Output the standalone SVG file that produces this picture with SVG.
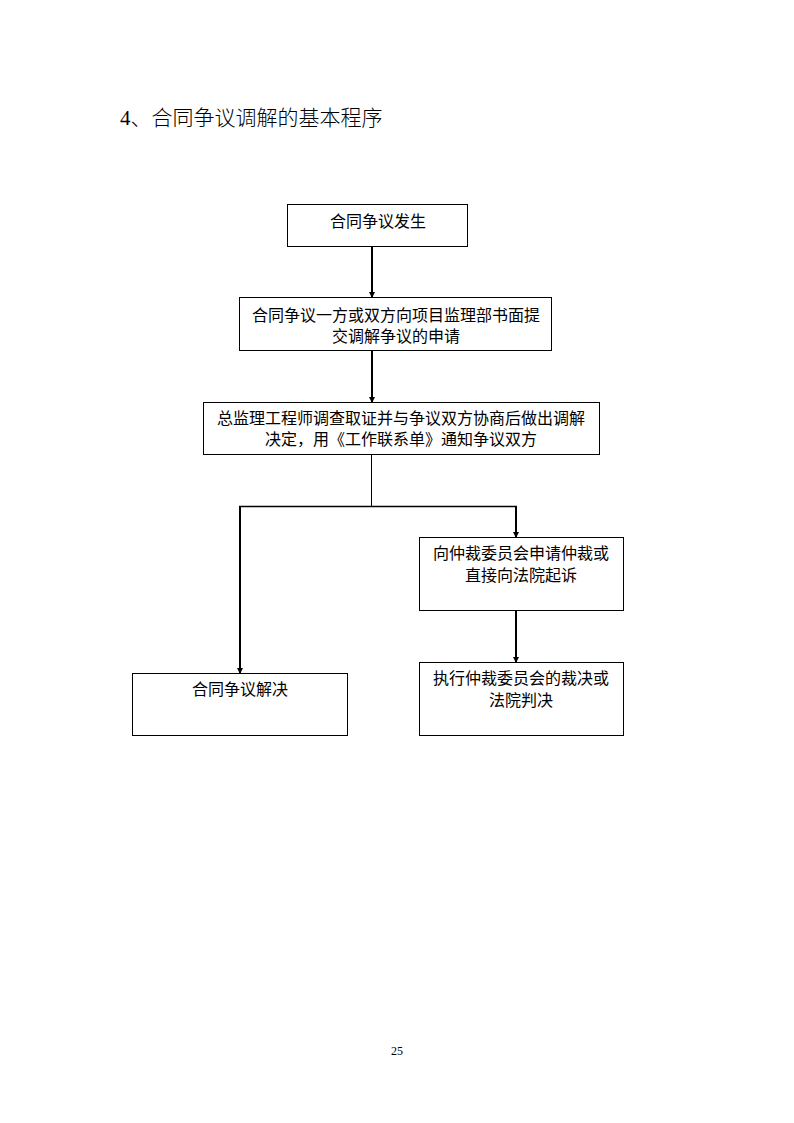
<svg xmlns="http://www.w3.org/2000/svg" width="794" height="1123" viewBox="0 0 794 1123">
<style>
.box{fill:#fff;stroke:#000;stroke-width:1}
.t{font-family:"Liberation Sans","Noto Sans CJK SC",sans-serif;font-size:16px;fill:#000;text-anchor:middle}
.arr{stroke:#000;stroke-width:2;fill:none}
.thin{stroke:#000;stroke-width:1;fill:none}
</style>
<defs>
<marker id="ah" markerWidth="6" markerHeight="6" refX="5" refY="3" orient="auto" markerUnits="userSpaceOnUse">
<path d="M0,0 L6,3 L0,6 z" fill="#000"/>
</marker>
</defs>
<text x="120" y="125" style="font-family:'Liberation Serif','Noto Sans CJK SC',serif;font-size:21px;font-weight:300">4、合同争议调解的基本程序</text>
<g id="connectors">
<line class="arr" x1="372" y1="246" x2="372" y2="297" marker-end="url(#ah)"/>
<line class="arr" x1="372" y1="350" x2="372" y2="402" marker-end="url(#ah)"/>
<line class="thin" x1="371.5" y1="454" x2="371.5" y2="506"/>
<line class="thin" x1="239" y1="506.5" x2="517" y2="506.5" style="stroke-width:1.5"/>
<line class="arr" x1="240" y1="506" x2="240" y2="673" marker-end="url(#ah)"/>
<line class="arr" x1="516" y1="506" x2="516" y2="537" marker-end="url(#ah)"/>
<line class="arr" x1="516" y1="610" x2="516" y2="662" marker-end="url(#ah)"/>
</g>
<g id="n1"><rect class="box" x="287.5" y="204.5" width="180" height="42"/><text class="t" x="378" y="227">合同争议发生</text></g>
<g id="n2"><rect class="box" x="239.5" y="297.5" width="312" height="53"/><text class="t" x="396" y="321">合同争议一方或双方向项目监理部书面提</text><text class="t" x="396" y="342">交调解争议的申请</text></g>
<g id="n3"><rect class="box" x="203.5" y="402.5" width="396" height="52"/><text class="t" x="401" y="424">总监理工程师调查取证并与争议双方协商后做出调解</text><text class="t" x="401" y="445">决定，用《工作联系单》通知争议双方</text></g>
<g id="n4"><rect class="box" x="132.5" y="673.5" width="215" height="62"/><text class="t" x="240" y="695">合同争议解决</text></g>
<g id="n5"><rect class="box" x="419.5" y="537.5" width="204" height="73"/><text class="t" x="521" y="559">向仲裁委员会申请仲裁或</text><text class="t" x="521" y="581">直接向法院起诉</text></g>
<g id="n6"><rect class="box" x="419.5" y="662.5" width="204" height="73"/><text class="t" x="521" y="684">执行仲裁委员会的裁决或</text><text class="t" x="521" y="706">法院判决</text></g>
<text x="397" y="1055" style="font-family:'Liberation Serif',serif;font-size:12px;text-anchor:middle">25</text>
</svg>
